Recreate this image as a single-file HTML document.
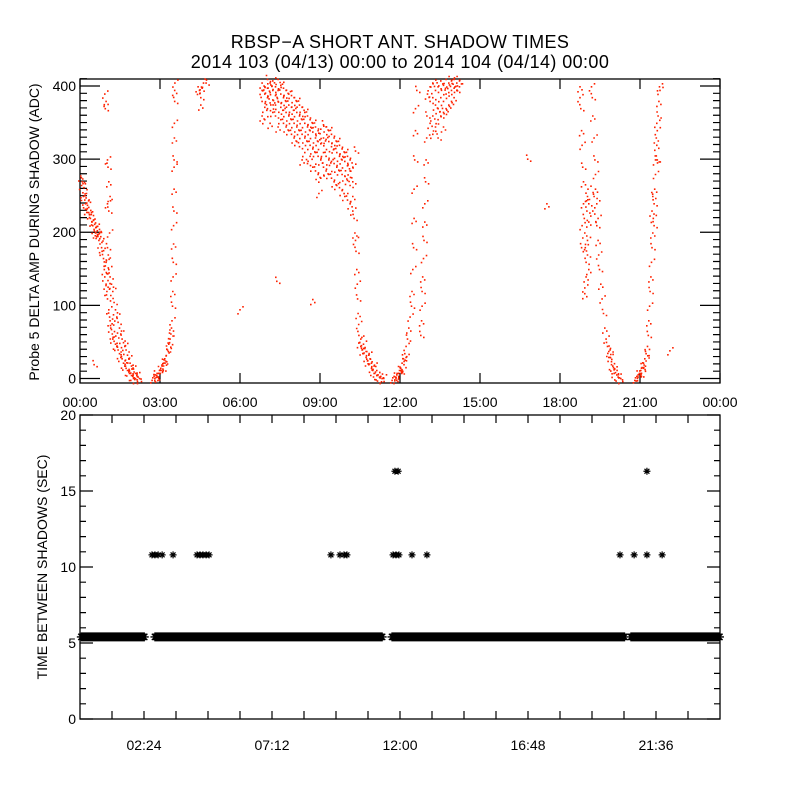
<!DOCTYPE html>
<html><head><meta charset="utf-8"><style>
html,body{margin:0;padding:0;background:#fff;}
svg{display:block;font-family:"Liberation Sans",sans-serif;}
</style></head><body>
<svg id="chart" width="800" height="800" viewBox="0 0 800 800">
<rect width="800" height="800" fill="#fff"/>
<text x="400" y="48" text-anchor="middle" font-size="18" letter-spacing="0.4">RBSP−A SHORT ANT. SHADOW TIMES</text>
<text x="400" y="68" text-anchor="middle" font-size="18" letter-spacing="0.4">2014 103 (04/13) 00:00 to 2014 104 (04/14) 00:00</text>
<g id="topPanel"></g>
<g id="botPanel"></g>
</svg>
<script>
// ---------- data ----------
const topXTicks = ["00:00","03:00","06:00","09:00","12:00","15:00","18:00","21:00","00:00"];
const topYTicks = [0,100,200,300,400];
const botXTicks = ["02:24","07:12","12:00","16:48","21:36"];
const botYTicks = [0,5,10,15,20];
// probe delta amp points: [hour, ADC]
const ampTrackA = [[0,278],[0.03,265],[0.06,270],[0.08,255],[0.1,250],[0.12,262],[0.15,245],[0.18,240],[0.2,248],[0.22,232],[0.25,238],[0.28,228],[0.3,235],[0.33,225],[0.36,220],[0.4,228],[0.42,215],[0.45,210],[0.48,218],[0.5,205],[0.52,212],[0.55,200],[0.58,208],[0.6,195],[0.62,203],[0.65,198],[0.68,190],[0.7,205],[0.72,185],[0.75,195],[0.78,180],[0.8,175],[0.85,165],[0.88,150],[0.9,140],[0.92,155],[0.95,130],[0.98,120],[1.0,110],[1.02,135],[1.05,95],[1.08,85],[1.1,80],[1.12,70],[1.15,68],[1.18,62],[1.2,55],[1.25,52],[1.3,48],[1.35,45],[1.4,40],[1.45,35],[1.5,30],[1.55,28],[1.6,22],[1.65,18],[1.7,15],[1.75,12],[1.8,10],[1.85,8],[1.9,5],[1.95,4],[2.0,2],[2.05,1],
[1.05,150],[1.1,140],[1.15,130],[1.2,120],[1.25,105],[1.3,95],[1.35,85],[1.4,78],[1.45,70],[1.5,62],[1.55,55],[1.6,50],[1.65,45],[1.7,40],[1.75,33],[1.8,28],[1.85,22],[1.9,18],[1.95,14],[2.0,10],[2.05,8],[2.1,5],[2.15,3],[2.2,1],
[0.9,390],[0.92,370],[0.95,380],[1.0,300],[1.02,290],[1.05,270],[1.0,240],[1.05,230],[1.1,250],[1.08,200],[1.0,180],[1.03,170],[0.95,160],[0.5,20]];
const ampTrackB = [[2.7,2],[2.75,4],[2.8,6],[2.85,5],[2.9,8],[2.95,12],[3.0,15],[3.05,18],[3.1,22],[3.15,28],[3.2,32],[3.25,40],[3.3,48],[3.35,55],[3.38,62],[3.4,70],[3.42,80],[3.44,100],[3.45,120],[3.46,140],[3.47,160],[3.48,185],[3.48,210],[3.49,230],[3.5,260],[3.5,290],[3.5,300],[3.51,330],[3.51,350],[3.52,380],[3.52,395],[3.53,405],[2.78,1],[2.88,3],[2.98,8],[3.08,14],[3.18,25],[3.28,38],[3.33,50],
[4.4,400],[4.45,395],[4.5,385],[4.5,375],[4.6,405],[4.7,405],[4.55,398],
[5.97,95],[7.35,134],[8.7,109],[8.93,254],[16.76,301],[17.48,240],[22.09,39]];
const ampTrackD = [[6.8,405],[6.8,395],[6.8,380],[6.8,360],[6.9,400],[6.9,390],[6.9,372],[6.9,355],[7.0,410],[7.0,398],[7.0,385],[7.0,370],[7.1,405],[7.1,392],[7.1,378],[7.1,350],[7.2,408],[7.2,395],[7.2,382],[7.2,365],[7.3,400],[7.3,388],[7.3,375],[7.3,360],[7.4,410],[7.4,395],[7.4,380],[7.4,345],[7.5,402],[7.5,390],[7.5,372],[7.5,355],[7.6,398],[7.6,385],[7.6,368],[7.6,350],[7.7,395],[7.7,380],[7.7,365],[7.7,345],[7.8,390],[7.8,375],[7.8,360],[7.8,340],[7.9,388],[7.9,372],[7.9,355],[7.9,335],[8.0,385],[8.0,368],[8.0,350],[8.0,330],[8.1,380],[8.1,365],[8.1,345],[8.1,325],[8.2,375],[8.2,360],[8.2,340],[8.2,318],[8.3,372],[8.3,355],[8.3,335],[8.3,300],[8.4,365],[8.4,350],[8.4,330],[8.4,310],[8.5,360],[8.5,345],[8.5,325],[8.5,295],[8.6,355],[8.6,340],[8.6,320],[8.6,305],[8.7,350],[8.7,338],[8.7,315],[8.7,290],[8.8,345],[8.8,330],[8.8,310],[8.8,285],[8.9,340],[8.9,325],[8.9,305],[8.9,280],[9.0,342],[9.0,322],[9.0,300],[9.0,275],[9.1,348],[9.1,330],[9.1,310],[9.1,290],[9.2,345],[9.2,328],[9.2,305],[9.2,285],[9.3,340],[9.3,325],[9.3,300],[9.3,280],[9.4,335],[9.4,318],[9.4,298],[9.4,275],[9.5,330],[9.5,315],[9.5,295],[9.5,270],[9.6,325],[9.6,310],[9.6,290],[9.6,265],[9.7,320],[9.7,305],[9.7,285],[9.7,262],[9.8,315],[9.8,300],[9.8,280],[9.8,258],[9.9,310],[9.9,298],[9.9,278],[9.9,250],[10.0,305],[10.0,292],[10.0,272],[10.0,245],[10.1,300],[10.1,285],[10.1,265],[10.1,240],[10.2,290],[10.2,270],[10.2,250],[10.2,230],
[10.25,220],[10.28,200],[10.3,190],[10.32,175],[10.35,150],[10.37,130],[10.38,110],[10.4,90],[10.42,75],[10.43,60],[10.45,50],[10.5,55],[10.5,45],[10.55,40],[10.6,48],[10.6,35],[10.65,42],[10.7,30],[10.7,38],[10.75,25],[10.8,33],[10.8,20],[10.85,28],[10.9,15],[10.9,22],[10.95,12],[11.0,18],[11.0,8],[11.05,10],[11.1,5],[11.1,12],[11.15,6],[11.2,3],[11.25,4],[11.3,1],[11.35,2],[10.3,312]];
const ampTrackE = [[11.7,2],[11.75,4],[11.8,3],[11.85,6],[11.9,8],[11.95,12],[12.0,15],[12.05,22],[12.1,28],[12.15,35],[12.2,45],[12.25,55],[12.3,70],[12.35,85],[12.4,100],[12.42,120],[12.45,150],[12.48,180],[12.5,220],[12.5,260],[12.52,300],[12.55,340],[12.55,370],[12.6,395],[11.82,1],[11.92,4],[12.02,10],[12.12,20],[12.2,30],
[12.75,60],[12.78,80],[12.8,100],[12.8,120],[12.82,140],[12.85,165],[12.87,190],[12.9,215],[12.9,240],[12.93,270],[12.95,300],[12.97,330],[12.98,360],[13.0,390],
[13.1,400],[13.1,380],[13.1,350],[13.2,405],[13.2,385],[13.2,360],[13.2,335],[13.3,395],[13.3,375],[13.3,345],[13.4,400],[13.4,370],[13.4,355],[13.4,330],[13.5,408],[13.5,385],[13.5,360],[13.6,402],[13.6,380],[13.6,365],[13.6,345],[13.7,410],[13.7,390],[13.7,370],[13.8,405],[13.8,392],[13.8,375],[13.9,408],[13.9,395],[13.9,380],[14.0,410],[14.0,398],[14.0,385],[14.1,405],[14.1,395],[14.2,408],[14.2,400]];
const ampTrackF = [[18.72,400],[18.72,385],[18.75,370],[18.78,340],[18.8,320],[18.82,290],[18.85,270],[18.85,240],[18.88,220],[18.9,200],[18.92,180],[18.95,160],[18.95,140],[18.9,125],[18.98,230],[19.0,250],[19.02,260],[19.05,240],[19.05,215],[19.0,190],[19.0,170],[19.05,150],[18.8,210],[18.78,180],[18.9,117],
[19.15,400],[19.18,385],[19.2,360],[19.25,330],[19.28,300],[19.3,260],[19.35,240],[19.35,210],[19.4,190],[19.42,170],[19.45,150],[19.5,130],[19.55,110],[19.6,90],[19.65,70],[19.7,55],[19.75,45],[19.8,38],[19.85,30],[19.9,24],[19.95,18],[20.0,13],[20.05,9],[20.1,6],[20.15,3],[20.2,2],[20.25,1],[19.3,280],[19.25,250],[19.2,230],[19.4,220],[19.8,30],[19.9,20],[20.0,8],[19.85,40]];
const ampTrackG = [[20.8,2],[20.85,4],[20.9,6],[20.95,8],[21.0,12],[21.05,16],[21.1,22],[21.15,28],[21.2,35],[21.25,45],[20.9,3],[21.0,6],[21.1,15],[21.2,25],
[21.28,60],[21.3,80],[21.33,100],[21.35,120],[21.38,140],[21.4,160],[21.42,180],[21.45,200],[21.47,220],[21.5,240],[21.52,260],[21.55,280],[21.58,300],[21.6,320],[21.62,340],[21.65,360],[21.68,380],[21.7,400],[21.45,250],[21.42,230],[21.6,350],[21.5,210],[21.55,300],[21.72,395],[21.62,300],[21.58,330]];
// time between shadows
const bandSegments = [[0.05,2.44],[2.81,11.33],[11.7,20.44],[20.66,24]];
const bandValue = 5.4;
const starHours10 = [2.7,2.81,2.93,3.08,3.49,4.39,4.5,4.61,4.73,4.84,9.41,9.75,9.9,10.01,11.74,11.85,11.96,12.45,13.01,20.25,20.78,21.26,21.83];
const starValue10 = 10.8;
const starHours16 = [11.81,11.93,21.26];
const starValue16 = 16.3;

// ---------- helpers ----------
const NS="http://www.w3.org/2000/svg";
function mk(tag,attrs,parent){const e=document.createElementNS(NS,tag);for(const k in attrs)e.setAttribute(k,attrs[k]);parent.appendChild(e);return e;}
const topG=document.getElementById('topPanel'), botG=document.getElementById('botPanel');
const X0=80,X1=720;
const tx=h=>X0+h/24*(X1-X0);
const TY0=383,TY1=79, tyv=v=>378.5-v*0.7313;
const BY0=719,BY1=415, byv=v=>BY0-v*(BY0-BY1)/20;

// ---- top panel ----
let box=mk('rect',{x:X0,y:TY1,width:X1-X0,height:TY0-TY1,fill:'none',stroke:'#000','stroke-width':1.3},topG);


let tk='';
for(let i=0;i<=8;i++){const x=tx(i*3);tk+=`M${x},${TY0}v-10M${x},${TY1}v10`;}
for(let v=0;v<=410;v+=10){const y=tyv(v);const L=(v%100===0)?20:7;tk+=`M${X0},${y}h${L}M${X1},${y}h-${L}`;}
let tp=mk('path',{d:tk,stroke:'#000','stroke-width':1.2,fill:'none'},topG);


topXTicks.forEach((t,i)=>{const e=mk('text',{x:tx(i*3),y:407,'text-anchor':'middle','font-size':14},topG);e.textContent=t;

});
topYTicks.forEach(v=>{const e=mk('text',{x:76,y:tyv(v)+5,'text-anchor':'end','font-size':14},topG);e.textContent=v;

});
let yt=mk('text',{x:0,y:0,'text-anchor':'middle','font-size':14,transform:'translate(39,232) rotate(-90)'},topG);
yt.textContent='Probe 5 DELTA AMP DURING SHADOW (ADC)';


const allAmp=[ampTrackA,ampTrackB,ampTrackD,ampTrackE,ampTrackF,ampTrackG];
const offs=[[0,0,2,3,-2,5],[0,0,-2,4,3,-3],[0,0,3,2,-1,-4]];
let dd='';
allAmp.forEach(tr=>tr.forEach((p,i)=>{const x=tx(p[0]),y=tyv(p[1]);const o=offs[i%3];
for(let k=0;k<6;k+=2){dd+=`M${(x+o[k]).toFixed(1)},${(y+o[k+1]).toFixed(1)}h1.6v1.6h-1.6z`;}}));
let dots=mk('path',{d:dd,fill:'#ff2200'},topG);



// ---- bottom panel ----
let box2=mk('rect',{x:X0,y:BY1,width:X1-X0,height:BY0-BY1,fill:'none',stroke:'#000','stroke-width':1.3},botG);


let tk2='';
for(let i=1;i<20;i++){const x=tx(i*1.2);tk2+=`M${x},${BY0}v-8M${x},${BY1}v8`;}
for(let v=0;v<=20;v++){const y=byv(v);const L=(v%5===0)?13:6;tk2+=`M${X0},${y}h${L}M${X1},${y}h-${L}`;}
let tp2=mk('path',{d:tk2,stroke:'#000','stroke-width':1.2,fill:'none'},botG);


botXTicks.forEach((t,i)=>{const e=mk('text',{x:tx(2.4+i*4.8),y:750,'text-anchor':'middle','font-size':14},botG);e.textContent=t;

});
botYTicks.forEach(v=>{const e=mk('text',{x:76,y:byv(v)+5,'text-anchor':'end','font-size':14},botG);e.textContent=v;

});
let yt2=mk('text',{x:0,y:0,'text-anchor':'middle','font-size':14,transform:'translate(47,567) rotate(-90)'},botG);
yt2.textContent='TIME BETWEEN SHADOWS (SEC)';


function star(x,y,r){return `M${x-r},${y}h${2*r}M${x},${y-r}v${2*r}M${x-r*0.7},${y-r*0.7}l${1.4*r},${1.4*r}M${x-r*0.7},${y+r*0.7}l${1.4*r},${-1.4*r}`;}
let sd='';
bandSegments.forEach(s=>{for(let h=s[0];h<=s[1]+1e-6;h+=0.04){sd+=star(tx(h),byv(bandValue),4.5);}});
let band=mk('path',{d:sd,stroke:'#000','stroke-width':1.3,fill:'none'},botG);


let sd2='';
starHours10.forEach(h=>{sd2+=star(tx(h),byv(starValue10),3.5);});
starHours16.forEach(h=>{sd2+=star(tx(h),byv(starValue16),3.5);});
let st=mk('path',{d:sd2,stroke:'#000','stroke-width':1.2,fill:'none'},botG);


</script>
</body></html>
